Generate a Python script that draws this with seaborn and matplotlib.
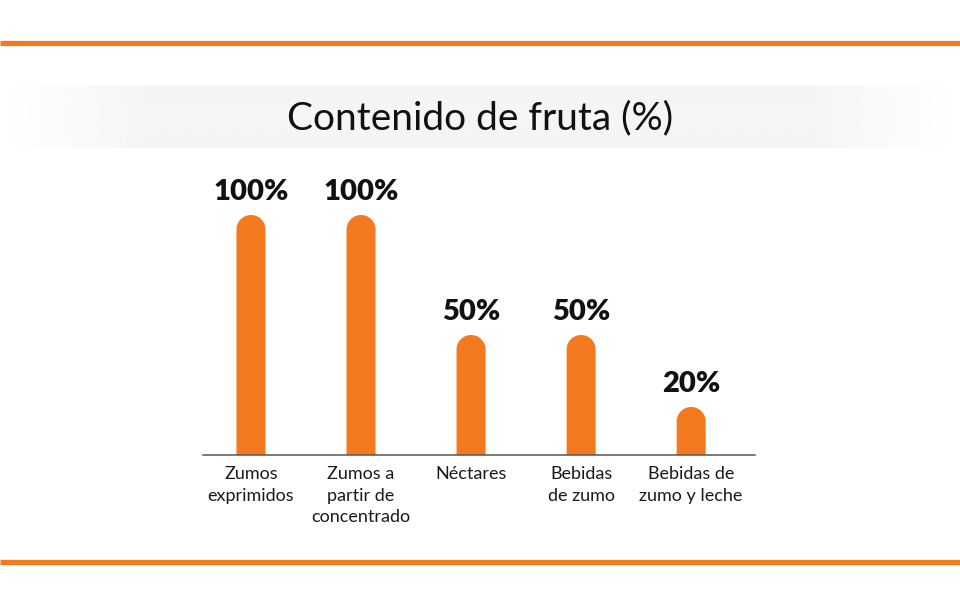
import matplotlib
matplotlib.use("Agg")
import matplotlib.pyplot as plt
from matplotlib.patches import Polygon
from matplotlib.lines import Line2D
import numpy as np
import pandas as pd
import seaborn as sns

categories = ["Zumos\nexprimidos", "Zumos a\npartir de\nconcentrado", "Néctares",
              "Bebidas\nde zumo", "Bebidas de\nzumo y leche"]
values = [100, 100, 50, 50, 20]
value_labels = ["100%", "100%", "50%", "50%", "20%"]

orange = "#F47A20"

sns.set_style("white")
plt.rcParams["font.family"] = ["Lato", "DejaVu Sans"]

df = pd.DataFrame({"cat": categories, "val": values})

fig = plt.figure(figsize=(9.6, 6.06), dpi=100)
fig.patch.set_facecolor("white")

# light band behind the title, fading at both ends
band = fig.add_axes([0.0, 1 - 148 / 606, 1.0, 63 / 606], zorder=0)
xs = np.linspace(0, 1, 400)
alpha = np.clip((np.minimum(xs, 1 - xs) - 0.01) / 0.15, 0, 1)
grad = np.zeros((1, 400, 4))
grad[..., :3] = np.array([244, 245, 247]) / 255
grad[..., 3] = alpha
band.imshow(grad, aspect="auto", extent=(0, 1, 0, 1))
band.axis("off")

fig.text(0.5, 1 - 118 / 606, "Contenido de fruta (%)", ha="center", va="center",
         fontsize=28, color="#111111")

# orange rules top and bottom
for yp in (43, 562):
    fig.add_artist(Line2D([0, 1], [1 - yp / 606] * 2, transform=fig.transFigure,
                          color=orange, lw=3.8, solid_capstyle="butt"))

ax = fig.add_axes([203 / 960, 1 - 455 / 606, 552 / 960, 288 / 606])
sns.barplot(data=df, x="cat", y="val", color=orange, width=0.264, saturation=1, ax=ax)
ax.set_xlim(-0.436, 4.58)
ax.set_ylim(0, 120)

# replace each bar with one outline that has a half-round top
fig.canvas.draw()
p0 = ax.transData.transform((0, 0))
p1 = ax.transData.transform((1, 1))
aspect = (p1[0] - p0[0]) / (p1[1] - p0[1])
theta = np.linspace(0, np.pi, 60)
for patch in list(ax.patches):
    x, w, h = patch.get_x(), patch.get_width(), patch.get_height()
    rx = w / 2
    ry = rx * aspect
    cx, cy = x + rx, h - ry
    arc = np.column_stack([cx + rx * np.cos(theta), cy + ry * np.sin(theta)])
    verts = np.vstack([[x + w, 0], arc, [x, 0]])
    patch.remove()
    ax.add_patch(Polygon(verts, closed=True, facecolor=orange, edgecolor="none",
                         linewidth=0))

for i, (v, lab) in enumerate(zip(values, value_labels)):
    ax.annotate(lab, (i, v), xytext=(0, 11), textcoords="offset points",
                ha="center", va="baseline", fontsize=21, fontweight="heavy",
                color="#111111")

ax.set_xlabel("")
ax.set_ylabel("")
ax.set_yticks([])
ax.tick_params(axis="x", length=0, pad=8, labelsize=13, labelcolor="#1a1a1a")
for t in ax.get_xticklabels():
    t.set_linespacing(1.42)
for s in ("top", "left", "right"):
    ax.spines[s].set_visible(False)
ax.spines["bottom"].set_color("#555555")
ax.spines["bottom"].set_linewidth(1.1)
ax.set_facecolor("none")

fig.savefig("out.png", dpi=100)
